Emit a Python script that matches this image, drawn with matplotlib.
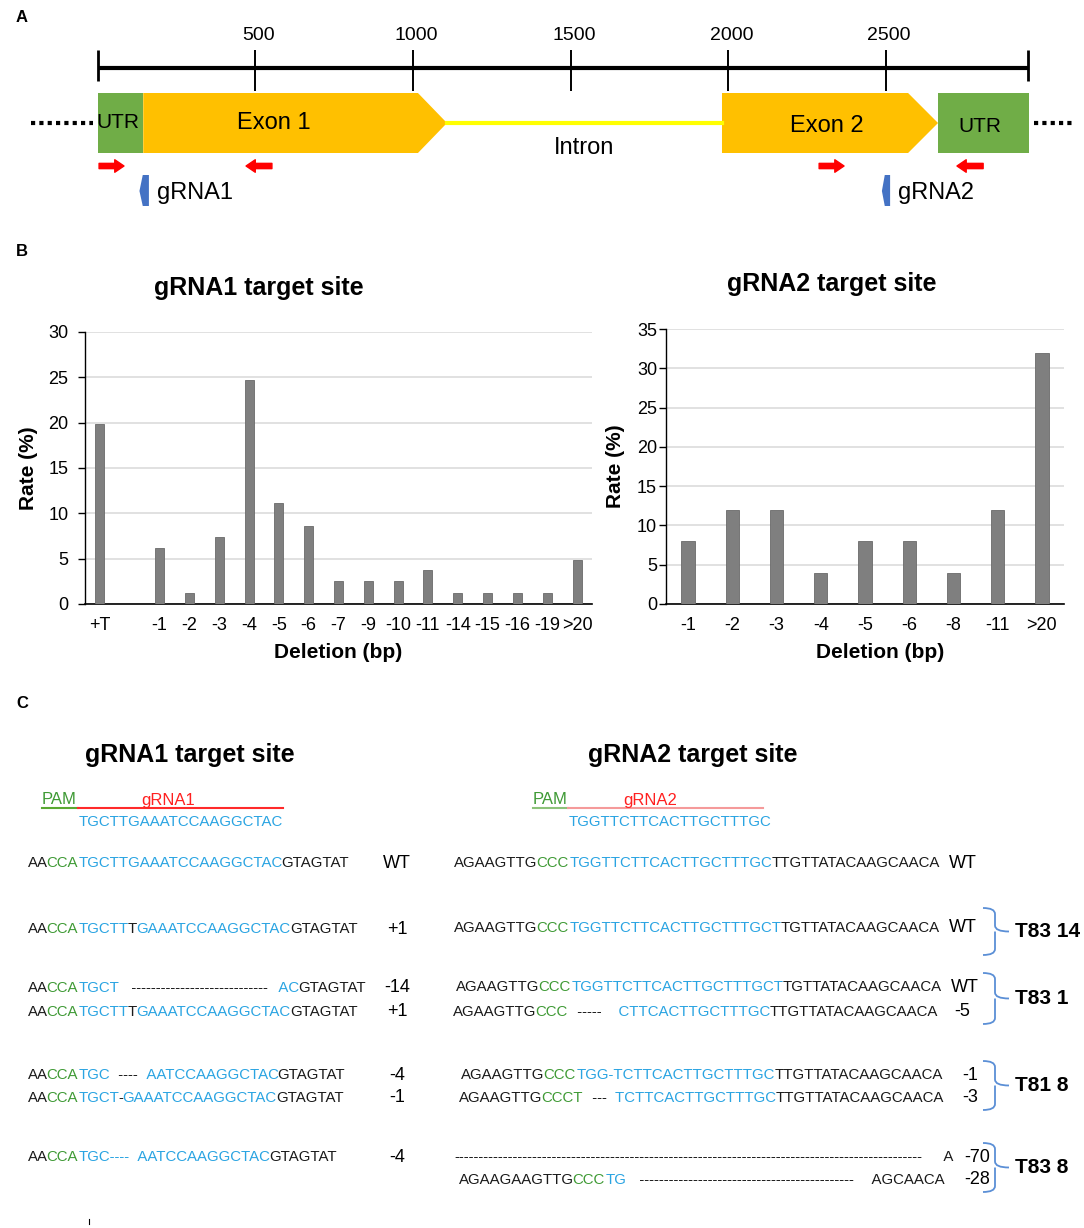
import numpy as np
import matplotlib.pyplot as plt
from matplotlib import font_manager, ft2font
from matplotlib.patches import Polygon, Rectangle, PathPatch
from matplotlib.path import Path

plt.rcParams['font.family'] = ['Liberation Sans', 'DejaVu Sans']

W, H = 1084, 1228

# ---------------- data ----------------
# A: gene model, positions in bp
scale_ticks = [500, 1000, 1500, 2000, 2500]
gene_end = 2950
utr5 = (0, 145)
exon1 = (145, 1016, 1108)      # start, end of body, arrow tip
exon2 = (1980, 2570, 2665)
utr3 = (2665, 2952)
primers_fwd = [(5, 84), (2288, 2367)]
primers_rev = [(553, 471), (2808, 2725)]
grna_sites = [(133, 163), (2487, 2513)]
grna_names = ['gRNA1', 'gRNA2']

# B: indel frequencies
g1_labels = ['+T', '', '-1', '-2', '-3', '-4', '-5', '-6', '-7', '-9', '-10',
             '-11', '-14', '-15', '-16', '-19', '>20']
g1_rate = [19.8, np.nan, 6.2, 1.2, 7.4, 24.7, 11.1, 8.6, 2.5, 2.5, 2.5,
           3.7, 1.2, 1.2, 1.2, 1.2, 4.9]
g2_labels = ['-1', '-2', '-3', '-4', '-5', '-6', '-8', '-11', '>20']
g2_rate = [8, 12, 12, 4, 8, 8, 4, 12, 32]

# C: aligned reads (segment text, colour key)
K, G, B = 'k', 'g', 'b'
grna1_guide = 'TGCTTGAAATCCAAGGCTAC'
grna2_guide = 'TGGTTCTTCACTTGCTTTGC'
grna1_rows = [
    [('AA', K), ('CCA', G), ('TGCTTGAAATCCAAGGCTAC', B), ('GTAGTAT', K)],
    [('AA', K), ('CCA', G), ('TGCTT', B), ('T', K), ('GAAATCCAAGGCTAC', B), ('GTAGTAT', K)],
    [('AA', K), ('CCA', G), ('TGCT', B), ('   ' + '-' * 28, K), ('  AC', B), ('GTAGTAT', K)],
    [('AA', K), ('CCA', G), ('TGCTT', B), ('T', K), ('GAAATCCAAGGCTAC', B), ('GTAGTAT', K)],
    [('AA', K), ('CCA', G), ('TGC', B), ('  ----', K), ('  AATCCAAGGCTAC', B), ('GTAGTAT', K)],
    [('AA', K), ('CCA', G), ('TGCT', B), ('-', K), ('GAAATCCAAGGCTAC', B), ('GTAGTAT', K)],
    [('AA', K), ('CCA', G), ('TGC----', B), ('  AATCCAAGGCTAC', B), ('GTAGTAT', K)],
]
grna1_calls = ['WT', '+1', '-14', '+1', '-4', '-1', '-4']

grna2_rows = [
    [('AGAAGTTG', K), ('CCC', G), ('TGGTTCTTCACTTGCTTTGC', B), ('TTGTTATACAAGCAACA', K)],
    [('AGAAGTTG', K), ('CCC', G), ('TGGTTCTTCACTTGCTTTGCT', B), ('TGTTATACAAGCAACA', K)],
    [('AGAAGTTG', K), ('CCC', G), ('TGGTTCTTCACTTGCTTTGCT', B), ('TGTTATACAAGCAACA', K)],
    [('AGAAGTTG', K), ('CCC', G), ('  -----', K), ('    CTTCACTTGCTTTGC', B), ('TTGTTATACAAGCAACA', K)],
    [('AGAAGTTG', K), ('CCC', G), ('TGG-TCTTCACTTGCTTTGC', B), ('TTGTTATACAAGCAACA', K)],
    [('AGAAGTTG', K), ('CCCT', G), ('  ---', K), ('  TCTTCACTTGCTTTGC', B), ('TTGTTATACAAGCAACA', K)],
    [('-' * 96, K), ('  A', K)],
    [('AGAAGAAGTTG', K), ('CCC', G), ('TG', B), ('   ' + '-' * 44, K), ('   AGCAACA', K)],
]
grna2_calls = ['WT', 'WT', 'WT', '-5', '-1', '-3', '-70', '-28']
grna2_groups = [('T83 14', 1, 1), ('T83 1', 2, 3), ('T81 8', 4, 5), ('T83 8', 6, 7)]

# ---------------- style ----------------
SEQ_COLORS = {K: '#1a1a1a', G: '#3f9a35', B: '#2aa4e2'}
ORANGE, UTR_GREEN, BLUE = '#ffc000', '#70ad47', '#4472c4'
BAR = '#7f7f7f'
SEQ_SIZE = 10.8

fig = plt.figure(figsize=(W / 100, H / 100), dpi=100)


def add_px_axes(l, t, r, b, **kw):
    return fig.add_axes([l / W, 1 - b / H, (r - l) / W, (b - t) / H], **kw)


# ---------------- A ----------------
ax_a = add_px_axes(0, 0, W, 220)
ax_a.axis('off')
px_per_bp, x0_px = 0.3154, 97.5
ax_a.set_xlim(-x0_px / px_per_bp, (W - x0_px) / px_per_bp)
ax_a.set_ylim(220, 0)

ax_a.plot([0, gene_end], [68, 68], color='k', lw=3, solid_capstyle='butt')
ax_a.vlines(scale_ticks, 50, 91, color='k', lw=1.4)
ax_a.vlines([0, gene_end], 50, 81, color='k', lw=2)
for t in scale_ticks:
    ax_a.text(t + 10, 36, str(t), ha='center', va='center', fontsize=14)

top, bot, mid = 93, 153, 123
for s, e, tip in [exon1, exon2]:
    ax_a.add_patch(Polygon([(s, top), (e, top), (tip, mid), (e, bot), (s, bot)],
                           closed=True, fc=ORANGE, ec='none'))
for s, e in [utr5, utr3]:
    ax_a.add_patch(Rectangle((s, top), e - s, bot - top, fc=UTR_GREEN, ec='none'))
ax_a.plot([exon1[2], exon2[0]], [mid, mid], color='#ffff00', lw=3)
ax_a.plot([-211, -14], [mid, mid], color='k', lw=3, ls=(0, (1, 1)))
ax_a.plot([2968, 3093], [mid, mid], color='k', lw=3, ls=(0, (1, 1)))

ax_a.text(65, mid, 'UTR', ha='center', va='center', fontsize=15)
ax_a.text(560, mid, 'Exon 1', ha='center', va='center', fontsize=17)
ax_a.text(1542, 148, 'Intron', ha='center', va='center', fontsize=17)
ax_a.text(2313, 126, 'Exon 2', ha='center', va='center', fontsize=17)
ax_a.text(2798, 126, 'UTR', ha='center', va='center', fontsize=15)

arrow_style = dict(arrowstyle='simple,head_length=0.7,head_width=0.95,tail_width=0.4',
                   color='#ff0000', mutation_scale=9.5, shrinkA=0, shrinkB=0)
for s, e in primers_fwd + primers_rev:
    ax_a.annotate('', xy=(e, 166), xytext=(s, 166), arrowprops=arrow_style)

for (s, e), name in zip(grna_sites, grna_names):
    k = s + (e - s) * 0.35
    ax_a.add_patch(Polygon([(s, 191), (k, 175), (e, 175), (e, 206), (k, 206)],
                           closed=True, fc=BLUE, ec='none'))
    ax_a.text(e + 26, 193, name, ha='left', va='center', fontsize=17)

# ---------------- B ----------------
def bar_panel(ax, labels, rates, ymax, title, title_x, ylab_x, xlab_x, ypad):
    x = np.arange(len(labels))
    ax.bar(x, rates, width=0.3, color=BAR, edgecolor='#6a6a6a', linewidth=0.6, zorder=3)
    ax.set_xlim(-0.5, len(labels) - 0.5)
    ax.set_ylim(0, ymax)
    ax.set_yticks(range(0, ymax + 1, 5))
    ax.set_xticks(x, labels)
    ax.grid(axis='y', color='#dcdcdc', lw=1.2, zorder=0)
    for side in ['top', 'right']:
        ax.spines[side].set_visible(False)
    ax.spines['left'].set_linewidth(1)
    ax.spines['bottom'].set_linewidth(1.2)
    ax.tick_params(axis='y', length=5, width=1, pad=ypad, labelsize=13)
    ax.tick_params(axis='x', length=0, pad=9, labelsize=13)
    ax.set_ylabel('Rate (%)', fontsize=15, fontweight='bold')
    ax.yaxis.label.set_verticalalignment('center')
    ax.yaxis.set_label_coords(ylab_x, 0.5)
    ax.set_xlabel('Deletion (bp)', fontsize=15, fontweight='bold')
    ax.xaxis.label.set_verticalalignment('center')
    ax.xaxis.set_label_coords(xlab_x, -0.178)
    ax.text(title_x, 1.163, title, transform=ax.transAxes, ha='center', va='center',
            fontsize=18, fontweight='bold')


ax_b1 = add_px_axes(85, 332, 592, 604)
bar_panel(ax_b1, g1_labels, g1_rate, 30, 'gRNA1 target site', 0.343, -0.112, 0.5, 7)
ax_b2 = add_px_axes(666, 329, 1064, 604)
bar_panel(ax_b2, g2_labels, g2_rate, 35, 'gRNA2 target site', 0.417, -0.126, 0.538, 1.5)

# ---------------- C and panel letters ----------------
ax_c = add_px_axes(0, 0, W, H)
ax_c.axis('off')
ax_c.set_xlim(0, W)
ax_c.set_ylim(H, 0)

for letter, y in [('A', 18), ('B', 252), ('C', 703)]:
    ax_c.text(22, y, letter, ha='center', va='center', fontsize=12, fontweight='bold')

ax_c.text(190, 755, 'gRNA1 target site', ha='center', va='center', fontsize=18, fontweight='bold')
ax_c.text(693, 755, 'gRNA2 target site', ha='center', va='center', fontsize=18, fontweight='bold')

# pen advance of a string, so coloured pieces of one read sit side by side
_ft = ft2font.FT2Font(font_manager.findfont(font_manager.FontProperties(family='Liberation Sans')))
_ft.set_size(SEQ_SIZE, 100)
try:
    _NOHINT, _KERN = ft2font.LoadFlags.NO_HINTING, ft2font.Kerning.DEFAULT
except AttributeError:
    _NOHINT, _KERN = ft2font.LOAD_NO_HINTING, ft2font.KERNING_DEFAULT


def advance(s):
    x, prev = 0.0, None
    for ch in s:
        idx = _ft.get_char_index(ord(ch))
        if prev is not None:
            x += _ft.get_kerning(prev, idx, _KERN) / 64
        x += _ft.load_glyph(idx, flags=_NOHINT).linearHoriAdvance / 65536
        prev = idx
    return x


def bearing(ch):
    if ch == ' ':
        return 0.0
    return _ft.load_glyph(_ft.get_char_index(ord(ch)), flags=_NOHINT).horiBearingX / 64


def draw_row(x, y, segments):
    done = ''
    for txt, col in segments:
        # agg puts the ink about one extra bearing to the right, take it back
        ax_c.text(x + advance(done) - 2 * bearing(txt[0]), y, txt, color=SEQ_COLORS[col],
                  fontsize=SEQ_SIZE, ha='left', va='center')
        done += txt


# guide annotations
for (pam_l, pam_r, red_r, name_x, name, guide, red_col, green_col) in [
        (42, 78, 283, 168, 'gRNA1', grna1_guide, '#ff2a2a', '#5aa832'),
        (533, 568, 763, 650, 'gRNA2', grna2_guide, '#f59a9a', '#8cc27a')]:
    ax_c.text(pam_l, 800, 'PAM', color='#3f9a35', fontsize=12, ha='left', va='center')
    ax_c.text(name_x, 800, name, color='#ff2020', fontsize=12, ha='center', va='center')
    ax_c.plot([pam_l, pam_r], [808, 808], color=green_col, lw=1.5)
    ax_c.plot([pam_r, red_r], [808, 808], color=red_col, lw=1.5)
    ax_c.text(pam_r + 1, 822, guide, color=SEQ_COLORS[B], fontsize=SEQ_SIZE,
              ha='left', va='center')

left_y = [863, 929, 988, 1012, 1075, 1098, 1157]
for y, segs, call in zip(left_y, grna1_rows, grna1_calls):
    draw_row(28, y, segs)
    ax_c.text(397, y, call, fontsize=13, ha='center', va='center')

right_y = [863, 928, 987, 1012, 1075, 1098, 1157, 1180]
right_x = [454, 454, 456, 453, 461, 459, 456, 459]
call_x = [949, 949, 951, 954, 962, 962, 964, 964]
for y, x, segs, call, cx in zip(right_y, right_x, grna2_rows, grna2_calls, call_x):
    draw_row(x, y, segs)
    ax_c.text(cx, y, call, fontsize=13, ha='left', va='center')


def brace(x0, y0, y1, color='#5b8fd6'):
    xm, xt = x0 + 12, x0 + 26
    ym = (y0 + y1) / 2
    r = 6
    verts = [(x0, y0), (xm, y0), (xm, y0 + r), (xm, ym - r), (xm, ym), (xt, ym),
             (xm, ym), (xm, ym + r), (xm, y1 - r), (xm, y1), (x0, y1)]
    codes = [Path.MOVETO, Path.CURVE3, Path.CURVE3, Path.LINETO, Path.CURVE3, Path.CURVE3,
             Path.MOVETO, Path.CURVE3, Path.LINETO, Path.CURVE3, Path.CURVE3]
    ax_c.add_patch(PathPatch(Path(verts, codes), fc='none', ec=color, lw=1.3))


for name, i0, i1 in grna2_groups:
    if i0 == i1:
        y0, y1 = right_y[i0] - 20, right_y[i1] + 27
    else:
        y0, y1 = right_y[i0] - 14, right_y[i1] + 12
    brace(983, y0, y1)
    ax_c.text(1015, (y0 + y1) / 2, name, fontsize=15, fontweight='bold',
              ha='left', va='center')

ax_c.plot([89, 89], [1219, 1224], color='k', lw=0.8)

fig.savefig('out.png', dpi=100)
